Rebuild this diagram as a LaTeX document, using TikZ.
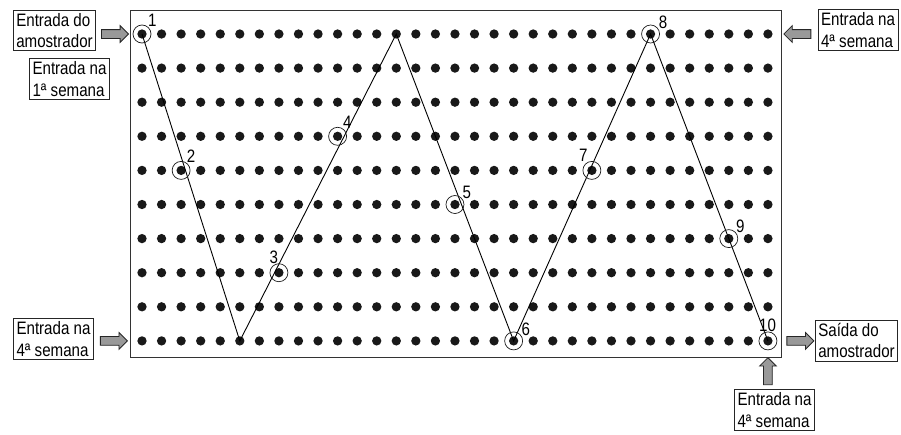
\documentclass[tikz,border=0pt]{standalone}
\usepackage{fontspec}
\setmainfont{Liberation Sans}[FakeStretch=0.84]
\usetikzlibrary{shapes.arrows, positioning, calc}

\tikzset{
  infobox/.style={draw=black!85, line width=0.8pt, align=left,
    inner xsep=3pt, inner ysep=3pt, font=\fontsize{18}{21.5}\selectfont},
  blockarrow/.style={single arrow, draw=black!85, fill=black!40, line width=0.8pt,
    inner sep=4pt, minimum height=27pt, single arrow head extend=4pt},
  griddot/.style={circle, fill=black!90, inner sep=0pt, minimum size=9.3pt},
  sample/.style={circle, draw=black!90, line width=0.7pt, inner sep=0pt, minimum size=18pt},
  lbl/.style={inner sep=0pt, label distance=0pt, font=\fontsize{18}{18}\selectfont},
}

\begin{document}
\begin{tikzpicture}[x=1pt, y=-1pt]
  \useasboundingbox (0,0) rectangle (901,434);

  %--- frame and grid of sampling points ---
  \node[draw=black!80, line width=1pt, minimum width=651pt, minimum height=347pt,
        inner sep=0pt] (frame) at (455.5,183.5) {};
  \foreach \c in {0,...,32}
    \foreach \r in {0,...,9}
      \node[griddot] (g-\c-\r) at ({142+19.56*\c},{34+34.1*\r}) {};

  %--- zigzag path ---
  \draw[line width=0.9pt] (g-0-0.center) -- (g-5-9.center) -- (g-13-0.center)
    -- (g-19-9.center) -- (g-26-0.center) -- (g-32-9.center);

  %--- numbered samples ---
  \node[sample, label={[lbl]50:1}]  (s1)  at (g-0-0)  {};
  \node[sample, label={[lbl]54:2}]  (s2)  at (g-2-4)  {};
  \node[sample, label={[lbl]95:3}]  (s3)  at (g-7-7)  {};
  \node[sample, label={[lbl]56:4}]  (s4)  at (g-10-3) {};
  \node[sample, label={[lbl]37:5}]  (s5)  at (g-16-5) {};
  \node[sample, label={[lbl]33:6}]  (s6)  at (g-19-9) {};
  \node[sample, label={[lbl]117:7}] (s7)  at (g-23-4) {};
  \node[sample, label={[lbl]30:8}]  (s8)  at (g-26-0) {};
  \node[sample, label={[lbl]40:9}]  (s9)  at (g-30-6) {};
  \node[sample, label={[lbl]92:10}] (s10) at (g-32-9) {};

  %--- entry and exit boxes ---
  \node[infobox] (inStart)  at (54.5,30.5)  {Entrada do\\amostrador};
  \node[infobox] (inWeek1)  at (69.5,79)    {Entrada na\\1ª semana};
  \node[infobox] (inTopR)   at (858,30)     {Entrada na\\4ª semana};
  \node[infobox] (inBotL)   at (53.5,339)   {Entrada na\\4ª semana};
  \node[infobox] (outEnd)   at (856.5,340.5){Saída do\\amostrador};
  \node[infobox] (inBottom) at (774.5,410)  {Entrada na\\4ª semana};

  %--- block arrows ---
  \path (inStart.east |- s1) -- (frame.west |- s1)
    node[midway, blockarrow] (arStart) {};
  \path (inTopR.west |- s8) -- (frame.east |- s8)
    node[midway, blockarrow, rotate=180] (arTopR) {};
  \path (inBotL.east |- g-0-9) -- (frame.west |- g-0-9)
    node[midway, blockarrow] (arBotL) {};
  \path (frame.east |- s10) -- (outEnd.west |- s10)
    node[midway, blockarrow] (arEnd) {};
  \path (inBottom.north -| s10) -- (frame.south -| s10)
    node[midway, blockarrow, rotate=90] (arBottom) {};
\end{tikzpicture}
\end{document}
